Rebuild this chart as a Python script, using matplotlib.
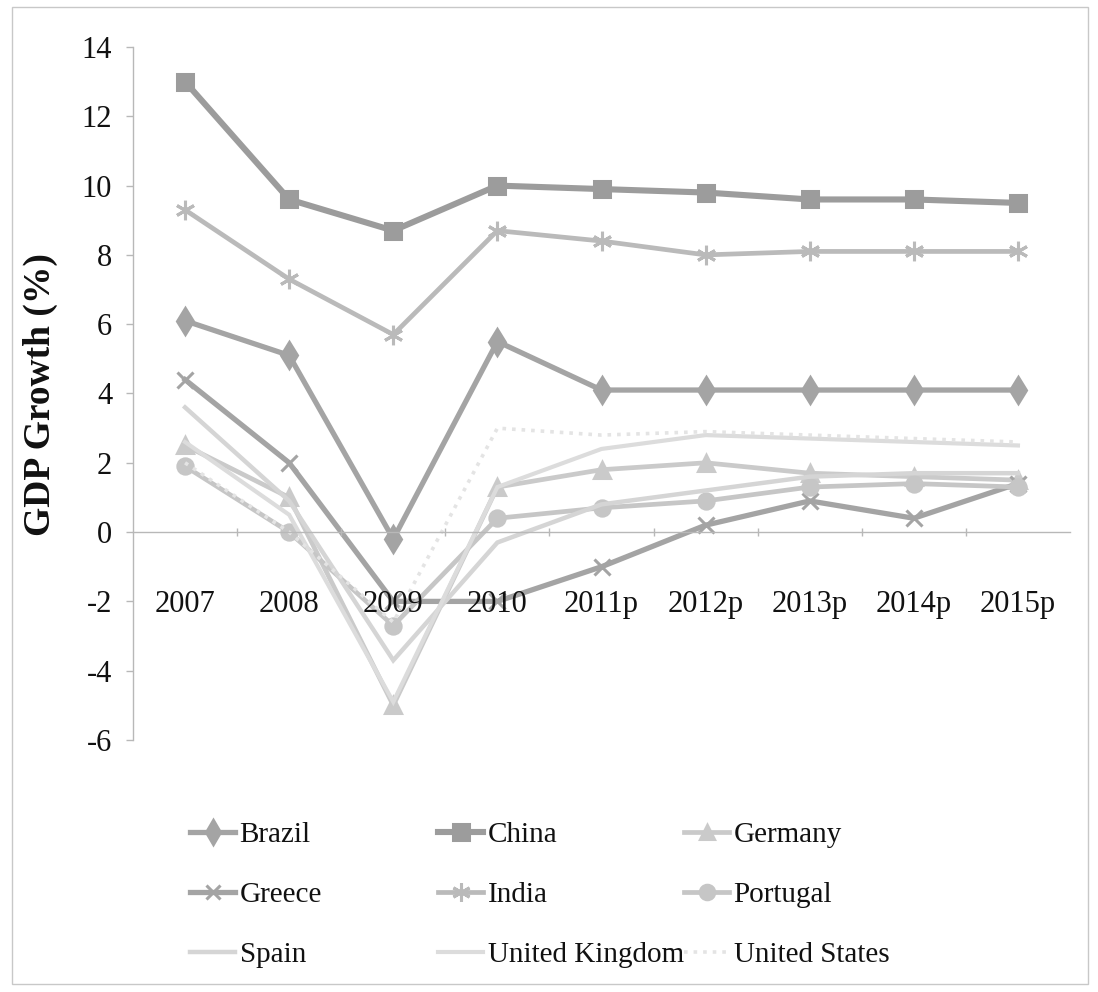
import matplotlib.pyplot as plt
from matplotlib.patches import Rectangle

plt.rcParams.update({"font.family": ["Liberation Serif", "DejaVu Serif"],
                     "axes.unicode_minus": False})

years = ["2007", "2008", "2009", "2010", "2011p", "2012p", "2013p", "2014p", "2015p"]

brazil = [6.1, 5.1, -0.2, 5.5, 4.1, 4.1, 4.1, 4.1, 4.1]
china = [13.0, 9.6, 8.7, 10.0, 9.9, 9.8, 9.6, 9.6, 9.5]
germany = [2.5, 1.0, -5.0, 1.3, 1.8, 2.0, 1.7, 1.6, 1.5]
greece = [4.4, 2.0, -2.0, -2.0, -1.0, 0.2, 0.9, 0.4, 1.4]
india = [9.3, 7.3, 5.7, 8.7, 8.4, 8.0, 8.1, 8.1, 8.1]
portugal = [1.9, 0.0, -2.7, 0.4, 0.7, 0.9, 1.3, 1.4, 1.3]
spain = [3.6, 0.9, -3.7, -0.3, 0.8, 1.2, 1.6, 1.7, 1.7]
uk = [2.6, 0.5, -4.9, 1.3, 2.4, 2.8, 2.7, 2.6, 2.5]
us = [2.0, 0.0, -2.6, 3.0, 2.8, 2.9, 2.8, 2.7, 2.6]

# name, values, colour, marker, marker size, line width, line style
styles = [
    ("Brazil", brazil, "#a4a4a4", "d", 13, 3.8, "-"),
    ("China", china, "#9c9c9c", "s", 12, 4.4, "-"),
    ("Germany", germany, "#cacaca", "^", 11, 3.4, "-"),
    ("Greece", greece, "#a4a4a4", "x", 11, 3.8, "-"),
    ("India", india, "#bababa", (6, 2, 0), 14, 3.4, "-"),
    ("Portugal", portugal, "#c6c6c6", "o", 11, 3.4, "-"),
    ("Spain", spain, "#d5d5d5", None, 0, 3.2, "-"),
    ("United Kingdom", uk, "#dcdcdc", None, 0, 3.0, "-"),
    ("United States", us, "#e4e4e4", None, 0, 2.6, ":"),
]

fig = plt.figure(figsize=(10.98, 9.92), dpi=100)
W, H = 1098, 992
ax = fig.add_axes([133 / W, 1 - 740 / H, (1070 - 133) / W, (740 - 47) / H])

x = list(range(len(years)))
handles = []
for name, vals, col, mk, ms, lw, ls in styles:
    h, = ax.plot(x, vals, color=col, lw=lw, ls=ls, marker=mk, ms=ms,
                 mfc=col, mec=col, mew=2.2, label=name, solid_joinstyle="miter")
    handles.append(h)

ax.set_xlim(-0.5, len(years) - 0.5)
ax.set_ylim(-6, 14)
ax.set_yticks(range(-6, 15, 2))
ax.set_xticks(x)
ax.set_xticklabels(years)
ax.set_xticks([i + 0.5 for i in x[:-1]], minor=True)
# category labels sit over the dipping lines
ax.set_axisbelow(False)

for s in ("top", "right"):
    ax.spines[s].set_visible(False)
ax.spines["bottom"].set_position(("data", 0))
for s in ("left", "bottom"):
    ax.spines[s].set_color("#b8b8b8")
    ax.spines[s].set_linewidth(1.0)

ax.tick_params(axis="y", length=5, width=1, color="#b8b8b8", pad=10,
               labelsize=22, labelcolor="#111111")
ax.tick_params(axis="x", which="major", length=0, pad=42,
               labelsize=22, labelcolor="#111111")
ax.tick_params(axis="x", which="minor", length=6, width=1, color="#b8b8b8",
               direction="inout")

fig.text(40 / W, 1 - 395 / H, "GDP Growth (%)", rotation=90, ha="center",
         va="center", fontsize=27, fontweight="bold", color="#111111")

# three legend columns laid out like the spreadsheet legend
col_x = [190, 438, 684]
for c in range(3):
    leg = fig.legend(handles=handles[c::3], loc="upper left",
                     bbox_to_anchor=(col_x[c] / W, 1 - 822 / H),
                     frameon=False, fontsize=21, handlelength=1.55,
                     handletextpad=0.15, labelspacing=1.15, borderpad=0,
                     borderaxespad=0, markerscale=0.95)
    for t in leg.get_texts():
        t.set_color("#111111")

fig.patches.append(Rectangle((12 / W, 8 / H), (1088 - 12) / W, (985 - 8) / H,
                             transform=fig.transFigure, fill=False,
                             edgecolor="#c8c8c8", lw=1.0))

fig.savefig("out.png", dpi=100)
